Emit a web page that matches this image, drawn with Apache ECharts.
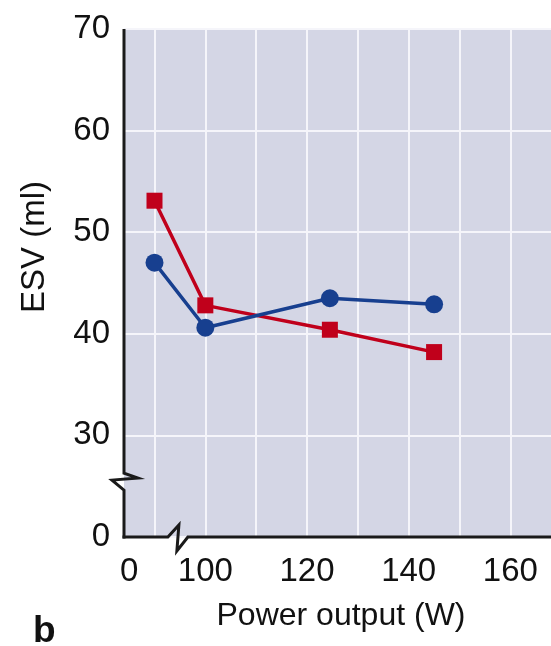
<!DOCTYPE html>
<html>
<head>
<meta charset="utf-8">
<script src="https://cdn.jsdelivr.net/npm/echarts@6/dist/echarts.min.js"></script>
<style>
  html, body { margin: 0; padding: 0; background: #ffffff; }
  #main { width: 551px; height: 646px; }
</style>
</head>
<body>
<div id="main"></div>
<script>
// ---- data ----
const powerOutput = [90, 100, 124.5, 145];          // W (first point sits on the broken-axis "rest" position)
const esvBlue     = [47.0, 40.6, 43.5, 42.9];       // ml, circles
const esvRed      = [53.1, 42.8, 40.4, 38.2];       // ml, squares
const xTickValues = [90, 100, 110, 120, 130, 140, 150, 160];
const xLabelValues = [85, 100, 120, 140, 160];      // 85 shows "0" beside the break
const yBreakLabel = { 20: '0' };                    // axis value 20 is labelled 0 (broken axis)

const FONT = 'Liberation Sans, Arial, Helvetica, sans-serif';
const X_MIN = 84, X_MAX = 168, Y_MIN = 20, Y_MAX = 70;

const chart = echarts.init(document.getElementById('main'), null, { renderer: 'canvas' });

const option = {
  animation: false,
  backgroundColor: '#ffffff',
  grid: {
    left: 124, right: 0, top: 29, bottom: 109,
    show: true, backgroundColor: '#d4d6e5', borderWidth: 0
  },
  xAxis: {
    type: 'value', min: X_MIN, max: X_MAX,
    name: 'Power output (W)', nameLocation: 'middle', nameGap: 63,
    nameTextStyle: { fontFamily: FONT, fontSize: 32, color: '#111', padding: [0, 0, 0, 7] },
    axisLine: { show: false },
    axisTick: { show: false, customValues: xTickValues },
    axisLabel: {
      customValues: xLabelValues, margin: 18,
      fontFamily: FONT, fontSize: 33, color: '#111',
      formatter: v => (v < 90 ? '0' : String(v))
    },
    splitLine: { show: true, lineStyle: { color: '#f5f5fa', width: 2 } }
  },
  yAxis: {
    type: 'value', min: Y_MIN, max: Y_MAX, interval: 10,
    axisLine: { show: false },
    axisTick: { show: false },
    axisLabel: {
      margin: 14, fontFamily: FONT, fontSize: 33, color: '#111',
      padding: [0, 0, 10, 0],
      formatter: v => (yBreakLabel[v] !== undefined ? yBreakLabel[v] : String(v))
    },
    splitLine: { show: true, lineStyle: { color: '#f5f5fa', width: 2 } }
  },
  series: [
    {
      type: 'line', name: 'red',
      data: powerOutput.map((p, i) => [p, esvRed[i]]),
      symbol: 'rect', symbolSize: 16,
      lineStyle: { color: '#c0001b', width: 3.5 },
      itemStyle: { color: '#c0001b' },
      z: 3
    },
    {
      type: 'line', name: 'blue',
      data: powerOutput.map((p, i) => [p, esvBlue[i]]),
      symbol: 'circle', symbolSize: 18,
      lineStyle: { color: '#173f8f', width: 3.5 },
      itemStyle: { color: '#173f8f' },
      z: 4
    }
  ]
};

chart.setOption(option);

// ---- broken axes drawn from the axis scales ----
const origin = chart.convertToPixel({ gridIndex: 0 }, [X_MIN, Y_MIN]);
const topPt  = chart.convertToPixel({ gridIndex: 0 }, [X_MIN, Y_MAX]);
const rightPt = chart.convertToPixel({ gridIndex: 0 }, [X_MAX, Y_MIN]);
const yb = chart.convertToPixel({ gridIndex: 0 }, [X_MIN, 25.6])[1];
const xb = chart.convertToPixel({ gridIndex: 0 }, [94.6, Y_MIN])[0];
const x0 = origin[0], y0 = origin[1];

const axisStyle = { stroke: '#1a1a1a', lineWidth: 3, fill: null, lineJoin: 'miter' };

chart.setOption({
  graphic: [
    {
      type: 'polyline', z: 100, silent: true,
      shape: { points: [
        [x0, topPt[1]], [x0, yb - 7], [x0 + 14, yb - 2], [x0 - 12, yb], [x0, yb + 10], [x0, y0 + 1.5]
      ] },
      style: axisStyle
    },
    {
      type: 'polyline', z: 100, silent: true,
      shape: { points: [
        [x0 - 1.5, y0], [xb - 10, y0], [xb + 1, y0 - 12], [xb - 1, y0 + 14], [xb + 10, y0], [rightPt[0], y0]
      ] },
      style: axisStyle
    },
    {
      type: 'text', z: 100, silent: true,
      x: 35, y: 247, rotation: Math.PI / 2,
      style: { text: 'ESV (ml)', fontFamily: FONT, fontSize: 33, fill: '#111', align: 'center', verticalAlign: 'middle' }
    },
    {
      type: 'text', z: 100, silent: true,
      x: 33, y: 613,
      style: { text: 'b', fontFamily: FONT, fontSize: 37, fontWeight: 'bold', fill: '#111', align: 'left', verticalAlign: 'top' }
    }
  ]
});
</script>
</body>
</html>
